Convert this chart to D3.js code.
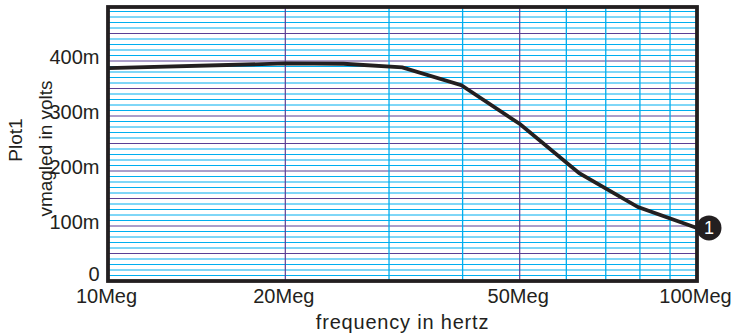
<!DOCTYPE html>
<html>
<head>
<meta charset="utf-8">
<script src="https://cdn.jsdelivr.net/npm/d3@7"></script>
<style>
  html, body { margin: 0; padding: 0; background: #fff; }
  svg { display: block; }
  text { font-family: "Liberation Sans", Arial, sans-serif; fill: #231f20; }
</style>
</head>
<body>
<svg id="chart" width="737" height="333"></svg>
<script>
// Data (frequency in Hz, voltage in volts)
const frequencies = [10e6, 20e6, 25.1e6, 31.6e6, 39.8e6, 50.1e6, 63.1e6, 79.4e6, 100e6];
const vmagValues  = [0.387, 0.3955, 0.395, 0.3885, 0.356, 0.285, 0.196, 0.1345, 0.0965];
const xTickValues = [10e6, 20e6, 50e6, 100e6];
const xTickLabels = ["10Meg", "20Meg", "50Meg", "100Meg"];
const yTickValues = [0, 0.1, 0.2, 0.3, 0.4];
const yTickLabels = ["0", "100m", "200m", "300m", "400m"];
const xMinorValues = [30e6, 40e6, 60e6, 70e6, 80e6, 90e6];
const markerLabel = "1";

const svg = d3.select("#chart");
const pLeft = 108, pRight = 697, pTop = 6, pBottom = 281;

const x = d3.scaleLog().domain([10e6, 100e6]).range([pLeft, pRight]);
const y = d3.scaleLinear().domain([0, 0.5]).range([pBottom, pTop]);

const cyan = "#00aeef", purple = "#5b3f94";

// horizontal grid every 10m, purple every 50m
const hLines = d3.range(1, 50).map(i => i / 100);
svg.append("g").selectAll("line").data(hLines).join("line")
  .attr("x1", pLeft).attr("x2", pRight)
  .attr("y1", d => y(d)).attr("y2", d => y(d))
  .attr("stroke", (d, i) => ((i + 1) % 5 === 0) ? purple : cyan)
  .attr("stroke-width", 1);

// vertical grid
svg.append("g").selectAll("line").data(xMinorValues).join("line")
  .attr("x1", d => x(d)).attr("x2", d => x(d))
  .attr("y1", pTop).attr("y2", pBottom)
  .attr("stroke", cyan).attr("stroke-width", 1.3);
svg.append("g").selectAll("line").data([20e6, 50e6]).join("line")
  .attr("x1", d => x(d)).attr("x2", d => x(d))
  .attr("y1", pTop).attr("y2", pBottom)
  .attr("stroke", purple).attr("stroke-width", 1.2);

// frame
svg.append("rect")
  .attr("x", pLeft).attr("y", pTop + 1)
  .attr("width", pRight - pLeft).attr("height", pBottom - pTop - 1)
  .attr("fill", "none").attr("stroke", "#231f20").attr("stroke-width", 3.8);

// curve
const line = d3.line().x((d, i) => x(frequencies[i])).y(d => y(d));
svg.append("path").datum(vmagValues)
  .attr("d", line)
  .attr("fill", "none").attr("stroke", "#231f20")
  .attr("stroke-width", 3.8).attr("stroke-linejoin", "miter");

// axes tick labels
const xAxis = svg.append("g").attr("transform", `translate(0,${pBottom})`)
  .call(d3.axisBottom(x).tickValues(xTickValues)
    .tickFormat((d, i) => xTickLabels[i]).tickSize(0).tickPadding(0));
xAxis.select(".domain").remove();
xAxis.selectAll("text").attr("y", 22).attr("dy", null).attr("dx", -2)
  .style("font-size", "20px").attr("fill", "#231f20");

const yAxis = svg.append("g").attr("transform", `translate(${pLeft},0)`)
  .call(d3.axisLeft(y).tickValues(yTickValues)
    .tickFormat((d, i) => yTickLabels[i]).tickSize(0).tickPadding(0));
yAxis.select(".domain").remove();
yAxis.selectAll("text").attr("x", -8.5).attr("dy", d => d === 0 ? -0.7 : 2)
  .style("font-size", "20px").attr("fill", "#231f20");

// axis titles
svg.append("text").attr("x", (pLeft + pRight) / 2).attr("y", 329)
  .attr("text-anchor", "middle").style("font-size", "20px")
  .style("letter-spacing", "0.8px").text("frequency in hertz");
svg.append("text").attr("transform", "translate(22,140) rotate(-90)")
  .attr("text-anchor", "middle").style("font-size", "19px").text("Plot1");
svg.append("text").attr("transform", "translate(52,148.5) rotate(-90)")
  .attr("text-anchor", "middle").style("font-size", "19px").text("vmagled in volts");

// marker
const mx = x(frequencies[frequencies.length - 1]) + 12;
const my = y(vmagValues[vmagValues.length - 1]);
svg.append("circle").attr("cx", mx).attr("cy", my).attr("r", 12.5).attr("fill", "#231f20");
svg.append("text").attr("x", mx).attr("y", my + 6.5).attr("text-anchor", "middle")
  .style("font-size", "18px").style("fill", "#fff").text(markerLabel);
</script>
</body>
</html>
